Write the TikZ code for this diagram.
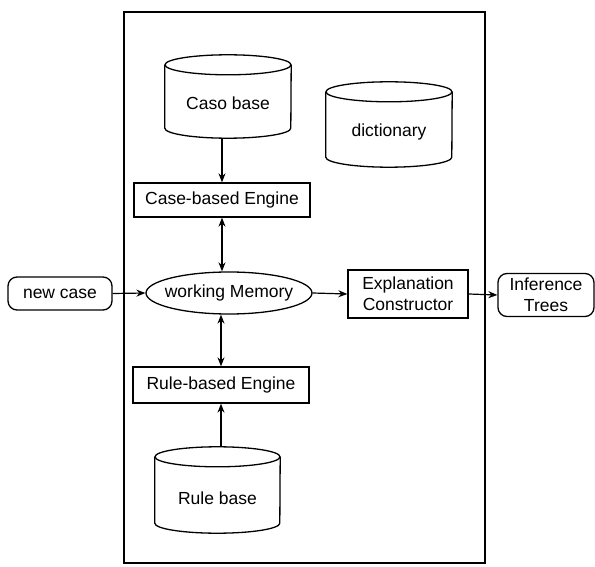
\documentclass[tikz,border=0pt]{standalone}
\usepackage{fontspec}
\setmainfont{Liberation Sans}
\usetikzlibrary{arrows.meta,shapes.geometric,calc}
\newcommand\dbcyl[2]{%
  \draw[line width=1.3pt] ($(#1.north west)+(0,-10)$)
    -- ($(#1.south west)+(0,10)$)
    arc[start angle=180,end angle=360,x radius=#2pt,y radius=10pt]
    -- ($(#1.north east)+(0,-10)$);
  \draw[line width=1.3pt] ($(#1.north)+(0,-10)$) ellipse[x radius=#2pt,y radius=10pt];
}
\begin{document}
\begin{tikzpicture}[x=1pt,y=1pt,
  every node/.style={font=\fontsize{17.5}{21}\selectfont, align=center, inner sep=2pt},
  box/.style={draw, line width=1.3pt},
  rbox/.style={draw, line width=1.3pt, rounded corners=9pt},
  arr/.style={line width=1.2pt, -{Stealth[length=9pt,width=7pt]}},
  darr/.style={line width=1.2pt, {Stealth[length=9pt,width=7pt]}-{Stealth[length=9pt,width=7pt]}}]
\useasboundingbox (0,0) rectangle (595,566);
\draw[line width=1.4pt] (124,3) rectangle (485,554);
% databases
\node[minimum width=126pt, minimum height=83pt] (cb) at (228,469.5) {};
\node (cbt) at (228,463) {Caso base};
\node[minimum width=126pt, minimum height=85pt] (dict) at (389,441.5) {};
\node (dictt) at (389,434) {dictionary};
\node[minimum width=125pt, minimum height=86pt] (rb) at (217.5,76) {};
\node (rbt) at (217.5,68) {Rule base};
\dbcyl{cb}{63}
\dbcyl{dict}{63}
\dbcyl{rb}{62.5}
% engines
\node[box, minimum width=176pt, minimum height=34pt] (cbe) at (222,366) {Case-based Engine};
\node[box, ellipse, minimum width=166pt, minimum height=42pt, inner xsep=-8pt, inner ysep=0pt] (wm) at (229,273) {working Memory};
\node[box, minimum width=176pt, minimum height=36pt] (rbe) at (221,181) {Rule-based Engine};
\node[box, minimum width=120pt, minimum height=48pt, inner sep=1pt] (ec) at (408,272) {Explanation\\Constructor};
\node[rbox, minimum width=104pt, minimum height=33pt] (nc) at (60,272.5) {new case};
\node[rbox, minimum width=96pt, minimum height=43pt, inner sep=1pt] (it) at (546,271) {Inference\\Trees};
% connectors
\draw[arr] (cb.south -| cbe.north) -- (cbe.north);
\draw[darr] (cbe.south) -- (cbe.south |- wm.north);
\draw[darr] (rbe.north |- wm.south) -- (rbe.north);
\draw[arr] (rb.north -| rbe.south) -- (rbe.south);
\draw[arr] (nc.east) -- (wm.west);
\draw[arr] (wm.east) -- (ec.west);
\draw[arr] (ec.east) -- (it.west);
\end{tikzpicture}
\end{document}
